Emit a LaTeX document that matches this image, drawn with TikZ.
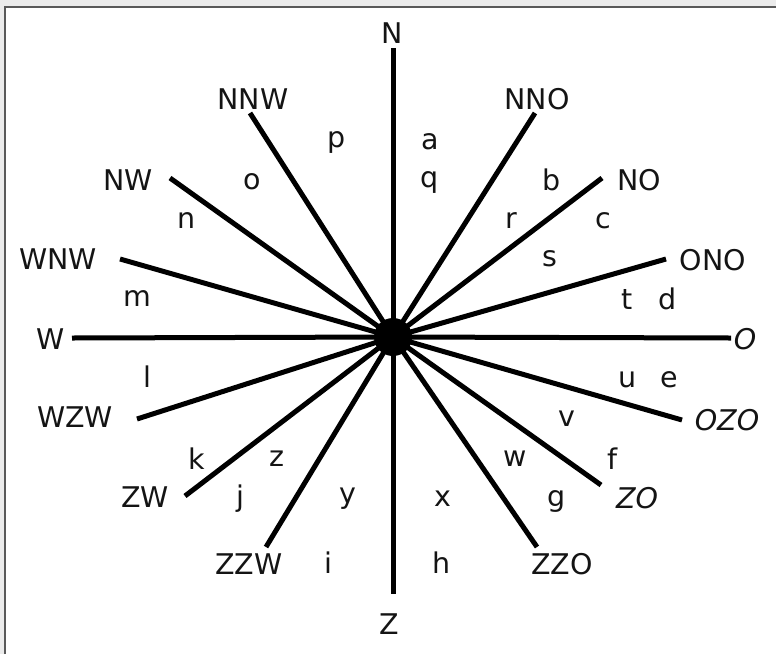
\documentclass[tikz,border=0pt]{standalone}
\usepackage{fontspec}
\setmainfont{DejaVu Sans}
\begin{document}
\begin{tikzpicture}[x=1pt,y=-1pt,
  spoke/.style={line width=5pt,black},
  lbl/.style={font=\fontsize{28.5}{30}\selectfont,text=black!92,inner sep=0pt,anchor=center},
  sml/.style={font=\fontsize{28.5}{30}\selectfont,text=black!92,inner sep=0pt,anchor=center},
  ilbl/.style={lbl,font=\fontsize{28.5}{30}\selectfont\itshape}]
\useasboundingbox (0,0) rectangle (776,654);
\fill[black!8] (0,0) rectangle (776,654);
\fill[white] (5,7) rectangle (776,654);
\draw[black!65,line width=2pt] (5,654) -- (5,7) -- (776,7);
% centre
\coordinate (c) at (393,337);
% end points of spokes
\coordinate (eN) at (393,48);
\coordinate (eZ) at (393,594);
\coordinate (eW) at (72,338);
\coordinate (eO) at (731,338);
\coordinate (eNNW) at (250,113);
\coordinate (eNNO) at (535,113);
\coordinate (eNW) at (170,178);
\coordinate (eNO) at (602,178);
\coordinate (eWNW) at (120,259);
\coordinate (eONO) at (666,259);
\coordinate (eWZW) at (137,419);
\coordinate (eOZO) at (682,420);
\coordinate (eZW) at (185,496);
\coordinate (eZO) at (601,485);
\coordinate (eZZW) at (266,547);
\coordinate (eZZO) at (537,547);
\foreach \e in {eN,eZ,eW,eO,eNNW,eNNO,eNW,eNO,eWNW,eONO,eWZW,eOZO,eZW,eZO,eZZW,eZZO}
  \draw[spoke] (c) -- (\e);
\node[circle,fill=black,draw=black,line width=2pt,minimum size=36pt,inner sep=0pt] (hub) at (c) {};
% direction labels
\node[lbl] (N) at (392,33) {N};
\node[lbl] (Z) at (389,624) {Z};
\node[lbl] (W) at (51,339) {W};
\node[ilbl] (O) at (745,339) {O};
\node[lbl] (NNW) at (253,99) {NNW};
\node[lbl] (NNO) at (537,99) {NNO};
\node[lbl] (NW) at (128,180) {NW};
\node[lbl] (NO) at (639,180) {NO};
\node[lbl] (WNW) at (58,259) {WNW};
\node[lbl] (ONO) at (713,260) {ONO};
\node[lbl] (WZW) at (75,417) {WZW};
\node[ilbl] (OZO) at (727,420) {OZO};
\node[lbl] (ZW) at (145,497) {ZW};
\node[ilbl] (ZO) at (637,498) {ZO};
\node[lbl] (ZZW) at (249,564) {ZZW};
\node[lbl] (ZZO) at (562,564) {ZZO};
% sector letters
\node[sml] (la) at (430,142) {a};
\node[sml] (lq) at (430,182) {q};
\node[sml] (lp) at (337,142) {p};
\node[sml] (lo) at (252,182) {o};
\node[sml] (ln) at (187,221) {n};
\node[sml] (lm) at (137,299) {m};
\node[sml] (ll) at (147,377) {l};
\node[sml] (lk) at (197,459) {k};
\node[sml] (lz) at (277,459) {z};
\node[sml] (lj) at (240,499) {j};
\node[sml] (ly) at (348,499) {y};
\node[sml] (li) at (328,563) {i};
\node[sml] (lh) at (442,563) {h};
\node[sml] (lx) at (443,499) {x};
\node[sml] (lw) at (515,459) {w};
\node[sml] (lg) at (557,501) {g};
\node[sml] (lf) at (613,459) {f};
\node[sml] (lv) at (567,419) {v};
\node[sml] (lu) at (628,380) {u};
\node[sml] (le) at (669,380) {e};
\node[sml] (lt) at (627,299) {t};
\node[sml] (ld) at (668,299) {d};
\node[sml] (ls) at (550,259) {s};
\node[sml] (lr) at (511,221) {r};
\node[sml] (lc) at (603,221) {c};
\node[sml] (lb) at (552,180) {b};
\end{tikzpicture}
\end{document}
